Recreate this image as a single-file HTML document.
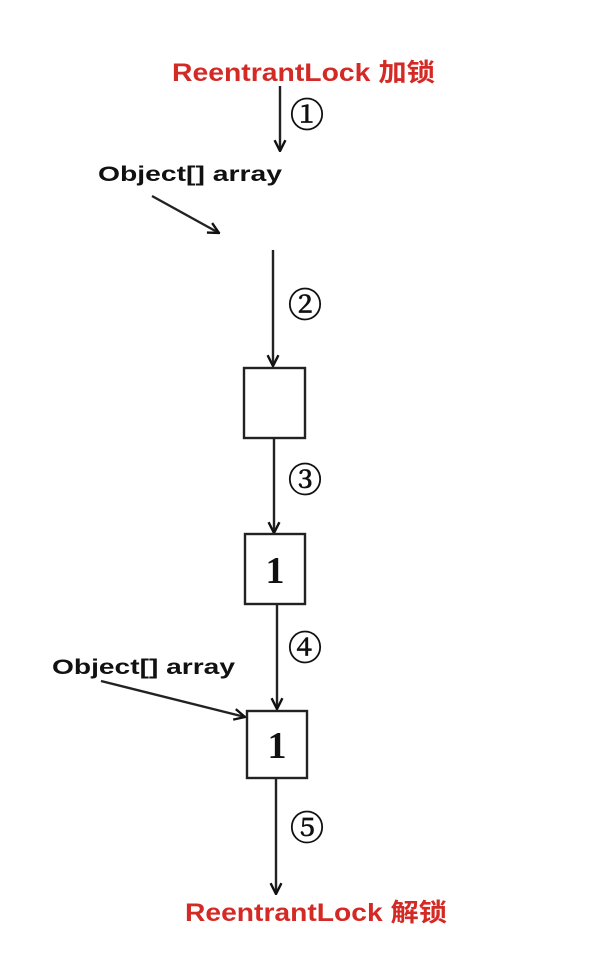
<!DOCTYPE html>
<html><head><meta charset="utf-8"><style>
html,body{margin:0;padding:0;background:#fff;}
svg{display:block;}
.r{font-family:"Liberation Sans","Noto Sans CJK SC",sans-serif;font-weight:bold;fill:#d42a26;font-size:25px;}
.b{font-family:"Liberation Sans",sans-serif;font-weight:bold;fill:#111;font-size:21px;}
.c{font-family:"DejaVu Serif","Noto Serif CJK SC",serif;fill:#111;font-size:34px;stroke:#111;stroke-width:0.8;}
.n{font-family:"Liberation Serif",serif;font-weight:bold;fill:#111;font-size:38px;}
</style></head><body>
<svg width="592" height="968" viewBox="0 0 592 968" xmlns="http://www.w3.org/2000/svg">
<defs><marker id="a" viewBox="0 0 12 12" refX="11" refY="6" markerWidth="13" markerHeight="13" markerUnits="userSpaceOnUse" orient="auto"><path d="M1,1 L11,6 L1,11" fill="none" stroke="#111" stroke-width="2.2"/></marker></defs>
<g stroke="#222" stroke-width="2.4" fill="none">
<line x1="280" y1="86" x2="280" y2="151" marker-end="url(#a)"/>
<line x1="152" y1="196" x2="219" y2="233" marker-end="url(#a)"/>
<line x1="273" y1="250" x2="273" y2="366" marker-end="url(#a)"/>
<line x1="274" y1="438" x2="274" y2="533" marker-end="url(#a)"/>
<line x1="277" y1="604" x2="277" y2="709" marker-end="url(#a)"/>
<line x1="101" y1="681" x2="245" y2="717" marker-end="url(#a)"/>
<line x1="276" y1="778" x2="276" y2="894" marker-end="url(#a)"/>
<rect x="244" y="368" width="61" height="70"/>
<rect x="245" y="534" width="60" height="70"/>
<rect x="247" y="711" width="60" height="67"/>
</g>
<text class="r" x="172" y="81" textLength="263" lengthAdjust="spacingAndGlyphs">ReentrantLock 加锁</text>
<text class="r" x="185" y="921" textLength="262" lengthAdjust="spacingAndGlyphs">ReentrantLock 解锁</text>
<text class="b" x="98" y="181" textLength="184" lengthAdjust="spacingAndGlyphs">Object[] array</text>
<text class="b" x="52" y="674" textLength="183" lengthAdjust="spacingAndGlyphs">Object[] array</text>
<text class="c" x="307" y="127" text-anchor="middle">①</text>
<text class="c" x="305" y="317" text-anchor="middle">②</text>
<text class="c" x="305" y="492" text-anchor="middle">③</text>
<text class="c" x="305" y="660" text-anchor="middle">④</text>
<text class="c" x="307" y="840" text-anchor="middle">⑤</text>
<text class="n" x="275" y="583" text-anchor="middle">1</text>
<text class="n" x="277" y="758" text-anchor="middle">1</text>
</svg>
</body></html>
